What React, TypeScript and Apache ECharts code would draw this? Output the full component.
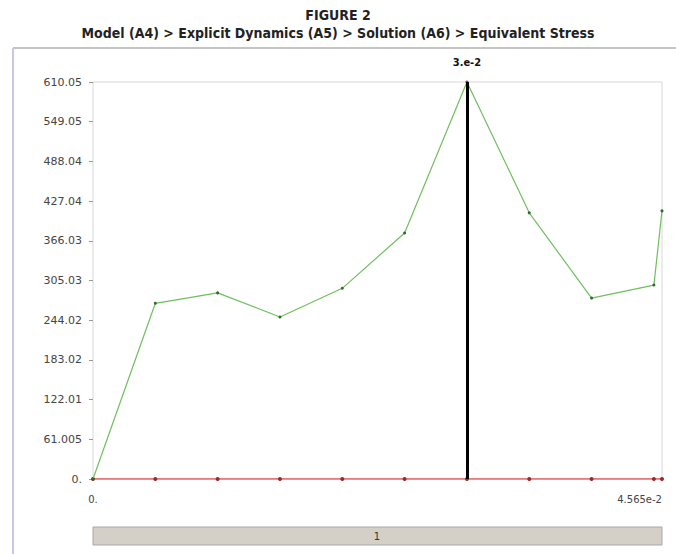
import React, { useEffect, useRef } from "react";
import * as echarts from "echarts";

const titleText = "FIGURE 2";
const subtitleText = "Model (A4) > Explicit Dynamics (A5) > Solution (A6) > Equivalent Stress";
const times = [0, 0.005, 0.01, 0.015, 0.02, 0.025, 0.03, 0.035, 0.04, 0.045, 0.04565];
const maxStress = [0, 270, 286, 249, 293, 378, 610.05, 409, 278, 298, 412];
const minStress = [0, 0, 0, 0, 0, 0, 0, 0, 0, 0, 0];
const yTickLabels = ["0.", "61.005", "122.01", "183.02", "244.02", "305.03", "366.03", "427.04", "488.04", "549.05", "610.05"];
const yStep = 61.005;
const xMax = 0.04565;
const xMinLabel = "0.";
const xMaxLabel = "4.565e-2";
const cursorTime = 0.03;
const cursorLabel = "3.e-2";
const stepLabel = "1";

export default function App() {
  const ref = useRef<HTMLDivElement>(null);
  useEffect(() => {
    if (!ref.current) return;
    const chart = echarts.init(ref.current, null, { renderer: "svg" });
    const titleFont = '"DejaVu Sans Condensed", "Liberation Sans", sans-serif';
    chart.setOption({
      animation: false,
      backgroundColor: "#ffffff",
      title: [
        {
          text: titleText,
          left: "center",
          top: 3,
          textStyle: { fontFamily: titleFont, fontSize: 14, fontWeight: "bold", color: "#222" },
        },
        {
          text: subtitleText,
          left: "center",
          top: 21,
          textStyle: { fontFamily: titleFont, fontSize: 14, fontWeight: "bold", color: "#222" },
        },
      ],
      grid: {
        left: 93,
        right: 14,
        top: 82,
        bottom: 75,
        show: true,
        borderColor: "#d8d8d8",
        borderWidth: 1,
      },
      xAxis: {
        type: "value",
        min: 0,
        max: xMax,
        interval: xMax,
        axisLine: { show: false },
        axisTick: { show: false },
        splitLine: { show: false },
        axisLabel: {
          margin: 15,
          fontFamily: "DejaVu Sans",
          fontSize: 10,
          color: "#444",
          alignMaxLabel: "right",
          formatter: (v: number) => (v === 0 ? xMinLabel : xMaxLabel),
        },
      },
      yAxis: {
        type: "value",
        min: 0,
        max: yStep * 10,
        interval: yStep,
        axisLine: { show: false },
        axisTick: { show: true, length: 4, lineStyle: { color: "#999" } },
        splitLine: { show: false },
        axisLabel: {
          margin: 11,
          fontFamily: "DejaVu Sans",
          fontSize: 11,
          color: "#444",
          formatter: (v: number) => yTickLabels[Math.round(v / yStep)] ?? "",
        },
      },
      graphic: [
        { type: "line", shape: { x1: 13, y1: 48, x2: 676, y2: 48 }, style: { stroke: "#c4c4c4", lineWidth: 2 } },
        { type: "line", shape: { x1: 13, y1: 48, x2: 13, y2: 554 }, style: { stroke: "#c8c8e4", lineWidth: 2 } },
        {
          type: "rect",
          shape: { x: 93, y: 527, width: 569, height: 18 },
          style: { fill: "#d4d0c8", stroke: "#a8a8a8", lineWidth: 1 },
        },
        {
          type: "text",
          x: 377,
          y: 536,
          style: { text: stepLabel, fontSize: 10, fontFamily: "DejaVu Sans", fill: "#333", align: "center", verticalAlign: "middle" },
        },
      ],
      series: [
        {
          type: "line",
          data: times.map((t, i) => [t, minStress[i]]),
          symbol: "circle",
          symbolSize: 4,
          showSymbol: true,
          lineStyle: { color: "#e05555", width: 1.5 },
          itemStyle: { color: "#a02828" },
          z: 3,
        },
        {
          type: "line",
          data: times.map((t, i) => [t, maxStress[i]]),
          symbol: "circle",
          symbolSize: 3,
          showSymbol: true,
          lineStyle: { color: "#6fbf5e", width: 1.2 },
          itemStyle: { color: "#2d6a2d" },
          z: 4,
          markLine: {
            silent: true,
            symbol: "none",
            lineStyle: { color: "#000", width: 3, type: "solid" },
            label: {
              show: true,
              position: "end",
              formatter: cursorLabel,
              fontFamily: "DejaVu Sans Condensed",
              fontWeight: "bold",
              fontSize: 11,
              color: "#111",
              distance: 14,
            },
            data: [{ xAxis: cursorTime }],
          },
        },
      ],
    });
    return () => chart.dispose();
  }, []);
  return <div ref={ref} style={{ position: "fixed", left: 0, top: 0, width: 676, height: 554 }} />;
}
